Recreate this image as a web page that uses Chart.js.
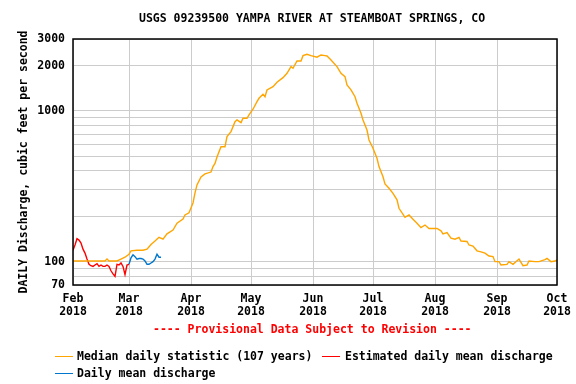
<!DOCTYPE html>
<html>
<head>
<meta charset="utf-8">
<script src="https://cdn.jsdelivr.net/npm/chart.js@4/dist/chart.umd.min.js"></script>
<style>
  html, body { margin: 0; padding: 0; background: #fff; }
  #wrap { position: relative; width: 576px; height: 384px; }
  #wrap canvas { position: absolute; left: 0; top: 0; }
  .txt { position: absolute; font: bold 11.5px "DejaVu Sans Mono", monospace; line-height: 14px; white-space: pre; color: #000; }
  .swatch { position: absolute; width: 18px; height: 1px; }
</style>
</head>
<body>
<div id="wrap">
  <canvas id="chart" width="576" height="384"></canvas>
  <div class="txt" style="left:139px; top:11px;">USGS 09239500 YAMPA RIVER AT STEAMBOAT SPRINGS, CO</div>
  <div class="txt" style="left:153px; top:322px; color:#ff0000;">---- Provisional Data Subject to Revision ----</div>
  <div class="swatch" style="left:55px; top:356px; background:#ffa500;"></div>
  <div class="txt" style="left:77px; top:349px;">Median daily statistic (107 years)</div>
  <div class="swatch" style="left:322px; top:356px; background:#ff0000;"></div>
  <div class="txt" style="left:345px; top:349px;">Estimated daily mean discharge</div>
  <div class="swatch" style="left:55px; top:373px; background:#0077cc;"></div>
  <div class="txt" style="left:77px; top:366px;">Daily mean discharge</div>
</div>
<script>
// USGS 09239500 Yampa River at Steamboat Springs — Feb..Oct 2018
// x = days since Feb 1 2018, y = discharge (cfs), log axis

const FONT = '"DejaVu Sans Mono", monospace';

// month gridlines (days since Feb 1) and their labels
const monthDays = [0, 28, 59, 89, 120, 150, 181, 212, 242];
const monthLabels = ['Feb', 'Mar', 'Apr', 'May', 'Jun', 'Jul', 'Aug', 'Sep', 'Oct'];

// log axis gridlines and the ones that get a label
const yGridValues = [70, 80, 90, 100, 200, 300, 400, 500, 600, 700, 800, 900, 1000, 2000, 3000];
const yLabelValues = [70, 100, 1000, 2000, 3000];

// median daily statistic (107 years)
const medianDays = [0, 16, 17, 18, 22, 24, 26, 28, 29, 32, 35, 37, 39, 41, 43, 45, 47, 50, 52, 55,
    56, 58, 60, 61, 62, 64, 66, 69, 70, 71, 72, 74, 76, 77, 79, 81, 82, 84, 85, 87,
    88, 90, 92, 93, 95, 96, 97, 100, 102, 105, 107, 109, 110, 112, 114, 115, 117, 119, 122, 124,
    126, 127, 129, 132, 134, 136, 137, 139, 141, 142, 144, 145, 147, 148, 150, 152, 153, 155, 156, 158,
    160, 162, 163, 166, 168, 170, 172, 174, 176, 178, 182, 184, 185, 187, 189, 191, 193, 194, 197, 198,
    200, 202, 204, 206, 208, 210, 211, 213, 214, 217, 218, 220, 223, 225, 227, 228, 231, 233, 236, 237,
    239, 241, 242];
const medianCfs = [101, 101, 104, 101, 101, 104, 107, 112, 118, 119, 119, 121, 130, 137, 145, 141, 153, 162, 180, 192,
    204, 211, 245, 286, 323, 365, 382, 393, 427, 449, 495, 579, 579, 675, 729, 849, 871, 836, 894, 894,
    940, 1026, 1152, 1213, 1290, 1243, 1378, 1449, 1550, 1662, 1778, 1967, 1919, 2145, 2145, 2326, 2377, 2326, 2271, 2351,
    2326, 2315, 2178, 1967, 1778, 1688, 1487, 1378, 1243, 1124, 965, 871, 747, 642, 565, 485, 427, 366, 328, 307,
    284, 257, 226, 197, 204, 191, 180, 168, 175, 166, 166, 160, 153, 156, 143, 141, 145, 137, 136, 129,
    127, 118, 116, 114, 109, 108, 100, 100, 95, 96, 100, 96, 104, 94, 95, 101, 100, 100, 103, 105,
    100, 101, 103];

// estimated daily mean discharge, Feb 1 .. Mar 1
const estStartDay = 0;
const estCfs = [119, 129, 142, 139, 133, 121, 114, 104, 96, 94, 93, 95, 97, 93, 95, 93, 93, 95, 93, 87,
    83, 80, 96, 95, 98, 93, 82, 95, 96];

// daily mean discharge, Mar 1 .. Mar 17
const dailyStartDay = 28;
const dailyCfs = [96, 106, 111, 108, 104, 105, 105, 104, 101, 96, 96, 98, 100, 104, 112, 107, 107];

const COLORS = {
    median: '#ffa500',
    est: '#ff0000',
    daily: '#0077cc',
    grid: '#cccccc',
};

function toPoints(days, vals) {
    return vals.map(function (v, i) { return { x: days[i], y: v }; });
}
function runPoints(start, vals) {
    return vals.map(function (v, i) { return { x: start + i, y: v }; });
}

// black frame round the plot
const frame = {
    id: 'frame',
    afterDraw(chart) {
        const a = chart.chartArea, ctx = chart.ctx;
        ctx.save();
        ctx.strokeStyle = '#000';
        ctx.lineWidth = 1.5;
        ctx.strokeRect(a.left, a.top, a.right - a.left, a.bottom - a.top);
        ctx.restore();
    }
};

const lineDefaults = { borderWidth: 1.4, pointRadius: 0, tension: 0, fill: false };

new Chart(document.getElementById('chart'), {
    type: 'line',
    data: {
        datasets: [
            Object.assign({ label: 'Median daily statistic (107 years)', data: toPoints(medianDays, medianCfs), borderColor: COLORS.median }, lineDefaults),
            Object.assign({ label: 'Estimated daily mean discharge', data: runPoints(estStartDay, estCfs), borderColor: COLORS.est }, lineDefaults),
            Object.assign({ label: 'Daily mean discharge', data: runPoints(dailyStartDay, dailyCfs), borderColor: COLORS.daily }, lineDefaults),
        ],
    },
    options: {
        responsive: false,
        animation: false,
        devicePixelRatio: 1,
        layout: { padding: { left: 0, right: 19, top: 39, bottom: 59 } },
        plugins: {
            legend: { display: false },
            tooltip: { enabled: false },
            title: { display: false },
        },
        scales: {
            x: {
                type: 'linear',
                min: 0,
                max: 242,
                afterBuildTicks: function (scale) {
                    scale.ticks = monthDays.map(function (d) { return { value: d }; });
                },
                afterFit: function (scale) {
                    scale.height = 40;
                    scale.paddingRight = 0;
                },
                grid: { color: COLORS.grid, drawTicks: false },
                border: { display: false },
                ticks: {
                    color: '#000',
                    padding: 7,
                    maxRotation: 0,
                    autoSkip: false,
                    font: { family: FONT, size: 11.5, weight: 'bold', lineHeight: 1.15 },
                    callback: function (value) {
                        const i = monthDays.indexOf(value);
                        return i < 0 ? '' : [monthLabels[i], '2018'];
                    },
                },
            },
            y: {
                type: 'logarithmic',
                min: 70,
                max: 3000,
                afterBuildTicks: function (scale) {
                    scale.ticks = yGridValues.map(function (v) { return { value: v }; });
                },
                afterFit: function (scale) { scale.width = 73; },
                grid: { color: COLORS.grid, drawTicks: false },
                border: { display: false },
                title: {
                    display: true,
                    text: 'DAILY Discharge, cubic feet per second',
                    color: '#000',
                    font: { family: FONT, size: 11.5, weight: 'bold', lineHeight: 1.2 },
                    padding: { top: 17, bottom: 0 },
                },
                ticks: {
                    color: '#000',
                    padding: 8,
                    autoSkip: false,
                    font: { family: FONT, size: 11.5, weight: 'bold' },
                    callback: function (value) {
                        return yLabelValues.indexOf(value) >= 0 ? String(value) : '';
                    },
                },
            },
        },
    },
    plugins: [frame],
});
</script>
</body>
</html>
